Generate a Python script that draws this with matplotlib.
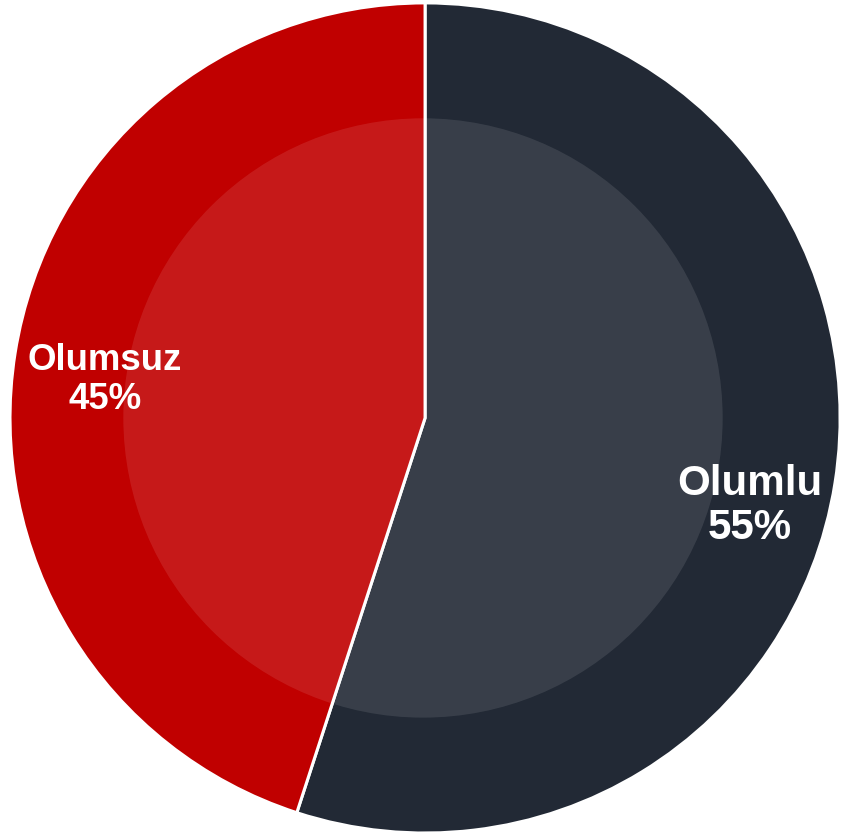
import matplotlib.pyplot as plt
from matplotlib.patches import Circle

labels = ['Olumlu', 'Olumsuz']
values = [55, 45]
colors = ['#222935', '#c00000']

fig = plt.figure(figsize=(8.41, 8.38), dpi=100)
fig.patch.set_facecolor('#ffffff')
ax = fig.add_axes([0, 0, 1, 1])

ax.pie(values, colors=colors, startangle=90, counterclock=False, radius=1.0,
       wedgeprops=dict(edgecolor='white', linewidth=2.2))

# lighter inner disc
ax.add_patch(Circle((-0.005, 0), 0.722, facecolor='white', alpha=0.1,
                    edgecolor='none', zorder=5))

# label positions (data units) and sizes
pos = [(0.783, -0.212), (-0.771, 0.092)]
sizes = [30.3, 26.4]
spacing = [1.1, 1.15]
for lab, v, (x, y), fs, ls in zip(labels, values, pos, sizes, spacing):
    ax.text(x, y, f'{lab}\n{v}%', ha='center', va='center', color='white',
            fontsize=fs, fontweight='bold', family=['Liberation Sans', 'DejaVu Sans'],
            linespacing=ls, zorder=6)

ax.set_xlim(-1.024, 1.002)
ax.set_ylim(-1.012, 1.007)
ax.axis('off')

plt.savefig('out.png', dpi=100)
